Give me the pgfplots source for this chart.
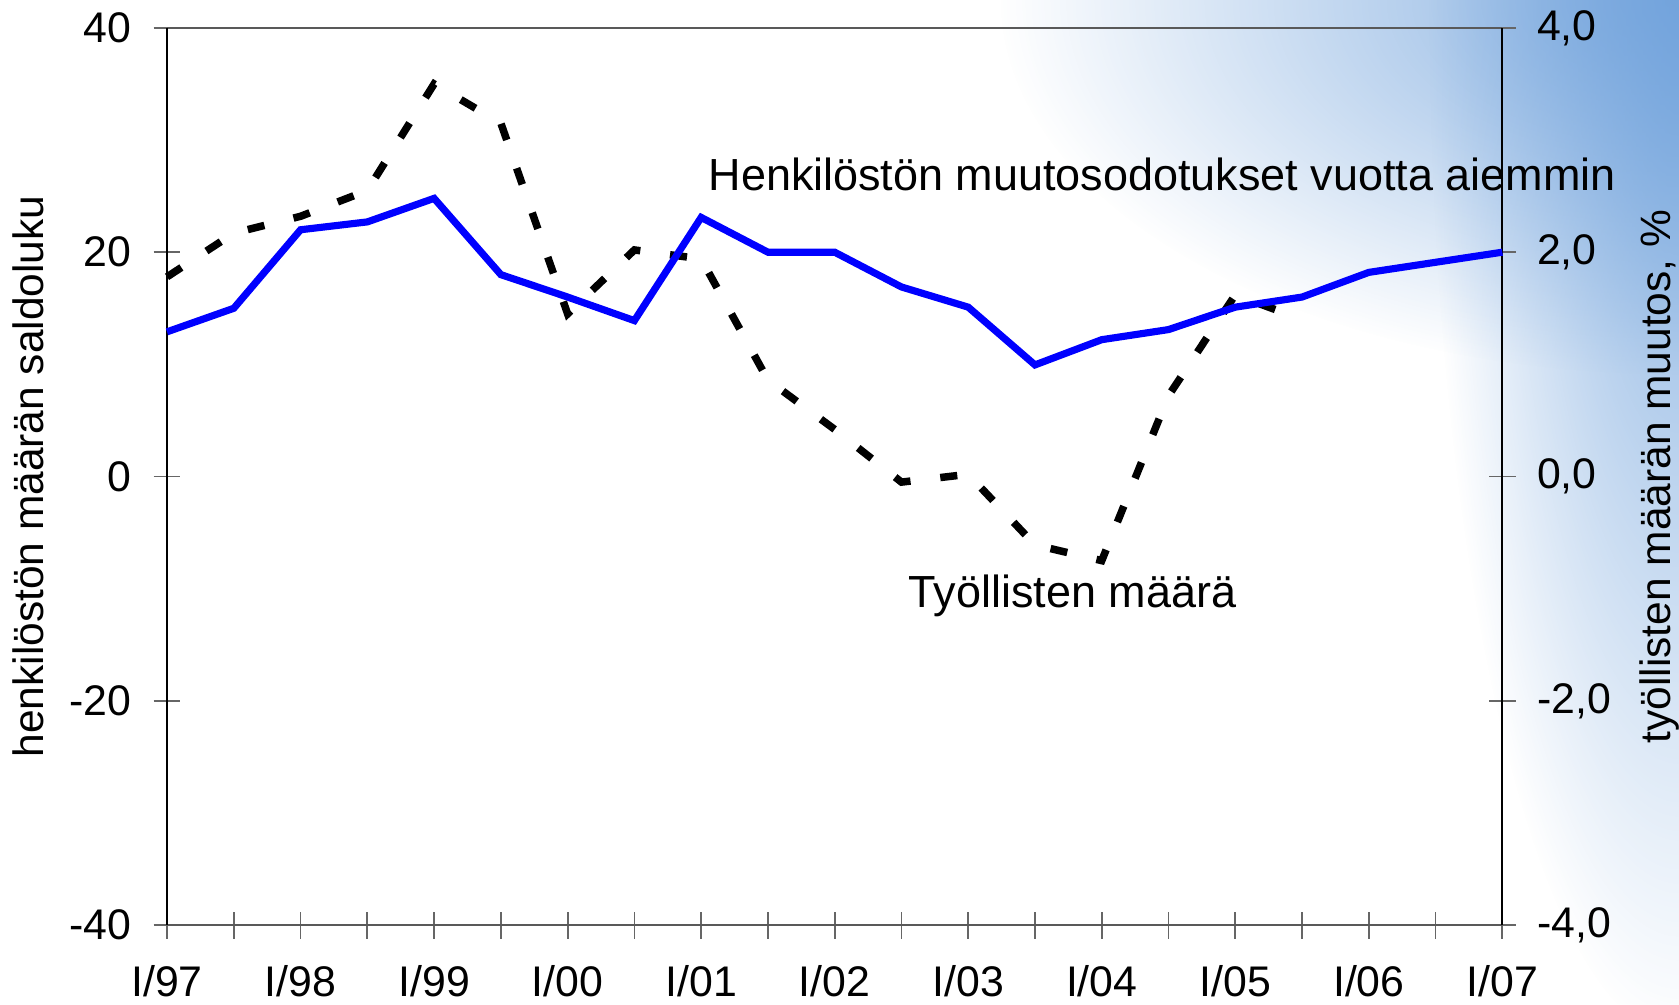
\documentclass[border=0pt]{standalone}
\usepackage{fontspec}
\setmainfont{Liberation Sans}
\usepackage{pgfplots}
\pgfplotsset{compat=1.18}
\usetikzlibrary{fadings}

\definecolor{bgA}{RGB}{112,162,220}
\definecolor{lineblue}{RGB}{0,0,255}
\tikzfading[name=radfade, inner color=transparent!15, outer color=transparent!100]

\pgfplotstableread{
x y
0 1.78
1 2.17
2 2.32
3 2.55
4 3.50
5 3.15
6 1.45
7 2.02
8 1.94
9 0.86
10 0.42
11 -0.05
12 0.02
13 -0.61
14 -0.75
15 0.72
16 1.62
17 1.40
}\tyollisten

\pgfplotstableread{
x y
0 12.9
1 15.0
2 22.0
3 22.7
4 24.8
5 18.0
6 16.0
7 13.9
8 23.1
9 20.0
10 20.0
11 16.9
12 15.1
13 9.95
14 12.2
15 13.1
16 15.1
17 16.0
18 18.2
19 19.1
20 20.0
}\henkilosto

\begin{document}
\fontsize{12}{14}\selectfont
\begin{tikzpicture}[font=\fontsize{12}{14}\selectfont]
\begin{scope}
\clip (-46.8pt,-22.2pt) rectangle (423.6pt,259.2pt);
\fill[white] (-46.8pt,-22.2pt) rectangle (423.6pt,259.2pt);
\fill[bgA, path fading=radfade] (423.6pt,259.2pt) ellipse [x radius=190pt, y radius=105pt];
\fill[bgA, path fading=radfade] (423.6pt,259.2pt) ellipse [x radius=70pt, y radius=290pt];
\end{scope}
\path[use as bounding box] (-46.8pt,-22.2pt) rectangle (423.6pt,259.2pt);

% right axis: employment change (dashed)
\begin{axis}[
  scale only axis, width=374.1pt, height=251.4pt,
  xmin=0, xmax=20, ymin=-4, ymax=4,
  axis x line=none, axis y line*=right,
  ytick={-4,-2,0,2,4},
  yticklabels={{-4,0},{-2,0},{0,0},{2,0},{4,0}},
  tick align=center, major tick length=7.5pt,
  y axis line style={black, line width=0.5pt},
  tick style={black!60, line width=0.5pt},
  yticklabel style={anchor=west, xshift=1.8pt},
  clip=false,
]
\addplot[black, line width=2.1pt, dash pattern=on 4.8pt off 8.4pt, line cap=butt] table[x=x,y=y] {\tyollisten};
\end{axis}

% left axis: personnel expectations (blue)
\begin{axis}[
  scale only axis, width=374.1pt, height=251.4pt,
  xmin=0, xmax=20, ymin=-40, ymax=40,
  separate axis lines,
  x axis line style={black!65, line width=0.5pt},
  y axis line style={black, line width=0.5pt},
  xtick pos=bottom, ytick pos=left,
  xtick={0,...,20},
  xticklabels={I/97,,I/98,,I/99,,I/00,,I/01,,I/02,,I/03,,I/04,,I/05,,I/06,,I/07},
  ytick={-40,-20,0,20,40},
  yticklabels={-40,-20,0,20,40},
  tick align=center, major tick length=7.5pt,
  tick style={black!60, line width=0.5pt},
  yticklabel style={anchor=east, xshift=-2.1pt},
  xticklabel style={anchor=north, yshift=-3.4pt},
  clip=false,
]
\addplot[lineblue, line width=2.0pt, line join=miter] table[x=x,y=y] {\henkilosto};
\node[anchor=base west, inner sep=0pt, font=\fontsize{12.6}{15}\selectfont] at (axis cs:8.10,25.5) {Henkilöstön muutosodotukset vuotta aiemmin};
\node[anchor=base west, inner sep=0pt, font=\fontsize{12.6}{15}\selectfont] at (axis cs:11.10,-11.65) {Työllisten määrä};
\node[rotate=90, anchor=base, inner sep=0pt, font=\fontsize{11.9}{14}\selectfont] at (rel axis cs:-0.0922,0.5) {henkilöstön määrän saldoluku};
\node[rotate=90, anchor=base, inner sep=0pt, font=\fontsize{11.9}{14}\selectfont] at (rel axis cs:1.1259,0.5) {työllisten määrän muutos, \%};
\end{axis}
\end{tikzpicture}
\end{document}
